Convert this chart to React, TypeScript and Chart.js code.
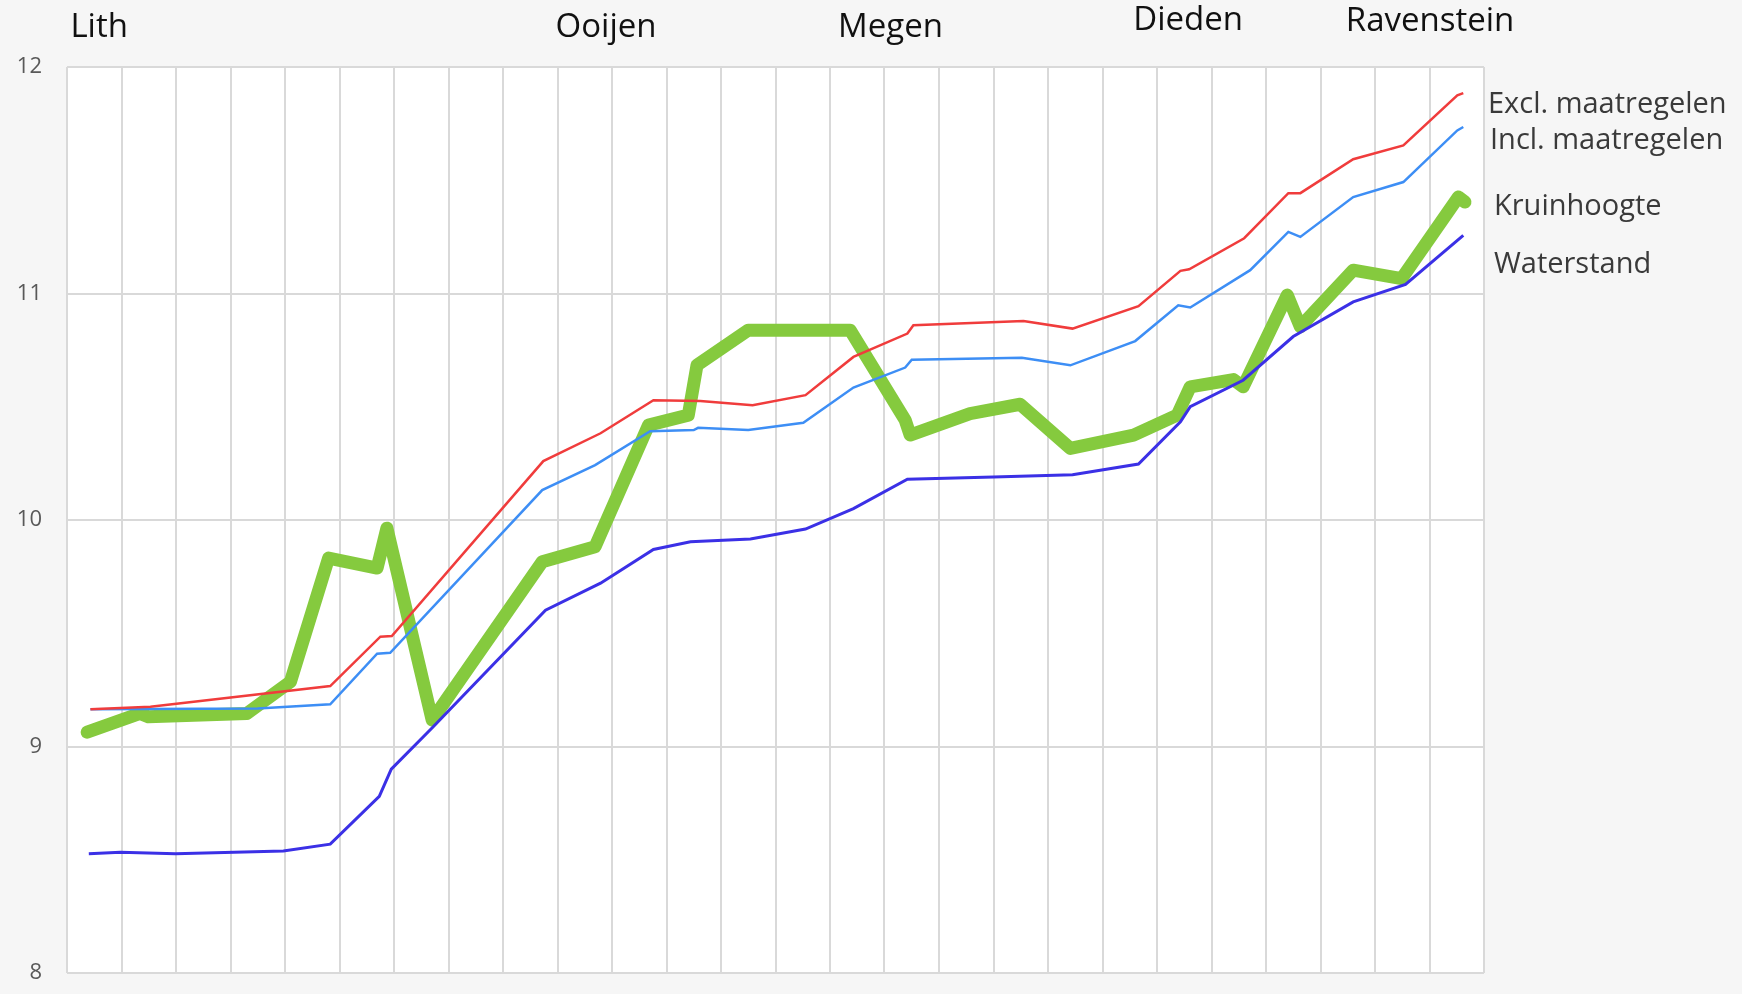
import React, { useEffect, useRef } from "react";
import { Chart, registerables } from "chart.js";

Chart.register(...registerables);

// Station names along the dike (top labels) and their position in grid-column units
const stationNames = ["Lith", "Ooijen", "Megen", "Dieden", "Ravenstein"];
const stationPos = [0.59, 9.89, 15.11, 20.57, 25.01];

// Series names (right-hand labels)
const seriesNames = ["Excl. maatregelen", "Incl. maatregelen", "Kruinhoogte", "Waterstand"];

// Axis settings
const columnCount = 26;
const yMin = 8;
const yMax = 12;

// Excl. maatregelen (red)
const exclPos = [0.43, 1.53, 4.83, 5.75, 5.96, 8.74, 9.79, 10.76, 11.62, 12.58, 13.55, 14.43, 15.42, 15.53, 17.55, 18.45, 19.66, 20.43, 20.59, 21.6, 22.41, 22.63, 23.6, 24.52, 25.51, 25.62];
const exclVal = [9.165, 9.176, 9.267, 9.485, 9.488, 10.26, 10.383, 10.529, 10.525, 10.507, 10.551, 10.72, 10.823, 10.86, 10.879, 10.845, 10.944, 11.1, 11.107, 11.244, 11.443, 11.443, 11.593, 11.654, 11.875, 11.885];

// Incl. maatregelen (light blue)
const inclPos = [0.43, 3.5, 4.83, 5.69, 5.93, 8.72, 9.69, 10.7, 11.5, 11.58, 12.5, 13.51, 14.43, 15.38, 15.5, 17.52, 18.41, 19.6, 20.39, 20.61, 21.71, 22.41, 22.63, 23.6, 24.52, 25.51, 25.62];
const inclVal = [9.164, 9.168, 9.186, 9.41, 9.414, 10.132, 10.242, 10.392, 10.397, 10.407, 10.397, 10.429, 10.585, 10.673, 10.708, 10.716, 10.683, 10.79, 10.948, 10.938, 11.103, 11.272, 11.25, 11.426, 11.492, 11.72, 11.735];

// Waterstand (dark blue)
const waterPos = [0.4, 0.98, 1.99, 3.97, 4.83, 5.73, 5.95, 6.72, 8.78, 9.79, 10.76, 11.44, 12.54, 13.55, 14.43, 15.42, 17.0, 18.45, 19.66, 20.43, 20.61, 21.58, 22.5, 23.6, 24.56, 25.62];
const waterVal = [8.527, 8.533, 8.527, 8.539, 8.569, 8.78, 8.9, 9.087, 9.602, 9.721, 9.87, 9.904, 9.916, 9.96, 10.05, 10.18, 10.19, 10.2, 10.247, 10.434, 10.5, 10.617, 10.81, 10.963, 11.04, 11.257];

// Kruinhoogte (green)
const kruinPos = [0.37, 1.34, 1.49, 3.3, 4.1, 4.8, 5.69, 5.87, 6.7, 8.72, 9.69, 10.67, 11.4, 11.56, 12.5, 14.37, 15.38, 15.47, 16.57, 17.49, 18.41, 19.57, 20.37, 20.61, 21.4, 21.58, 22.39, 22.63, 23.6, 24.49, 25.53, 25.65];
const kruinVal = [9.063, 9.146, 9.131, 9.146, 9.286, 9.832, 9.788, 9.964, 9.117, 9.816, 9.882, 10.419, 10.463, 10.684, 10.838, 10.838, 10.441, 10.375, 10.47, 10.511, 10.316, 10.375, 10.463, 10.588, 10.62, 10.588, 10.993, 10.853, 11.103, 11.066, 11.426, 11.404];

const W = 1742;
const H = 994;

function pts(xs: number[], ys: number[]) {
  return xs.map((x, i) => ({ x, y: ys[i] }));
}

const textPlugin = {
  id: "textPlugin",
  beforeDraw(chart: any) {
    const { ctx, chartArea: a } = chart;
    ctx.save();
    ctx.fillStyle = "#f6f6f6";
    ctx.fillRect(0, 0, chart.width, chart.height);
    ctx.fillStyle = "#ffffff";
    ctx.fillRect(a.left, a.top, a.right - a.left, a.bottom - a.top);
    ctx.restore();
  },
  afterDraw(chart: any) {
    const { ctx, chartArea: a } = chart;
    const xs = chart.scales.x;
    ctx.save();
    ctx.font = '33px "Open Sans"';
    ctx.fillStyle = "#111111";
    ctx.textAlign = "center";
    ctx.textBaseline = "alphabetic";
    const baselines = [37, 37, 37, 30, 31];
    stationNames.forEach((n, i) => {
      ctx.fillText(n, xs.getPixelForValue(stationPos[i]), baselines[i]);
    });
    ctx.font = '29px "Open Sans"';
    ctx.fillStyle = "#3a3a3a";
    ctx.textAlign = "left";
    const dx = [4, 6, 10, 10];
    const by = [113, 149, 215, 273];
    seriesNames.forEach((n, i) => {
      ctx.fillText(n, a.right + dx[i], by[i]);
    });
    ctx.restore();
  },
};

export default function App() {
  const ref = useRef<HTMLCanvasElement | null>(null);

  useEffect(() => {
    document.body.style.margin = "0";
    document.body.style.background = "#f6f6f6";
    const canvas = ref.current;
    if (!canvas) return;
    const chart = new Chart(canvas, {
      type: "line",
      data: {
        datasets: [
          {
            label: seriesNames[0],
            data: pts(exclPos, exclVal),
            borderColor: "#f03c3c",
            borderWidth: 2.5,
            pointRadius: 0,
            tension: 0,
          },
          {
            label: seriesNames[1],
            data: pts(inclPos, inclVal),
            borderColor: "#3d8ef5",
            borderWidth: 2.5,
            pointRadius: 0,
            tension: 0,
          },
          {
            label: seriesNames[3],
            data: pts(waterPos, waterVal),
            borderColor: "#3b30e6",
            borderWidth: 3,
            pointRadius: 0,
            tension: 0,
          },
          {
            label: seriesNames[2],
            data: pts(kruinPos, kruinVal),
            borderColor: "#85ca3e",
            borderWidth: 13,
            borderJoinStyle: "round",
            borderCapStyle: "round",
            pointRadius: 0,
            tension: 0,
          },
        ],
      },
      options: {
        responsive: false,
        maintainAspectRatio: false,
        animation: false,
        devicePixelRatio: 1,
        layout: { autoPadding: false, padding: { left: 0, top: 67, right: 258, bottom: 21 } },
        plugins: {
          legend: { display: false },
          tooltip: { enabled: false },
        },
        scales: {
          x: {
            type: "linear",
            min: 0,
            max: columnCount,
            ticks: { display: false, stepSize: 1 },
            grid: { color: "#d9d9d9", lineWidth: 2, drawTicks: false },
            border: { display: false },
            afterFit(s: any) {
              s.height = 0;
              s.paddingLeft = 0;
              s.paddingRight = 0;
            },
          },
          y: {
            min: yMin,
            max: yMax,
            ticks: {
              stepSize: 1,
              padding: 25,
              color: "#595959",
              font: { family: "Open Sans", size: 22 },
            },
            grid: { color: "#d9d9d9", lineWidth: 2, drawTicks: false },
            border: { display: false },
            afterFit(s: any) {
              s.width = 67;
              s.paddingTop = 0;
              s.paddingBottom = 0;
            },
          },
        },
      },
      plugins: [textPlugin],
    } as any);
    return () => chart.destroy();
  }, []);

  return (
    <div style={{ width: W, height: H, position: "relative", background: "#f6f6f6" }}>
      <canvas ref={ref} width={W} height={H} style={{ display: "block", width: W, height: H }} />
    </div>
  );
}
